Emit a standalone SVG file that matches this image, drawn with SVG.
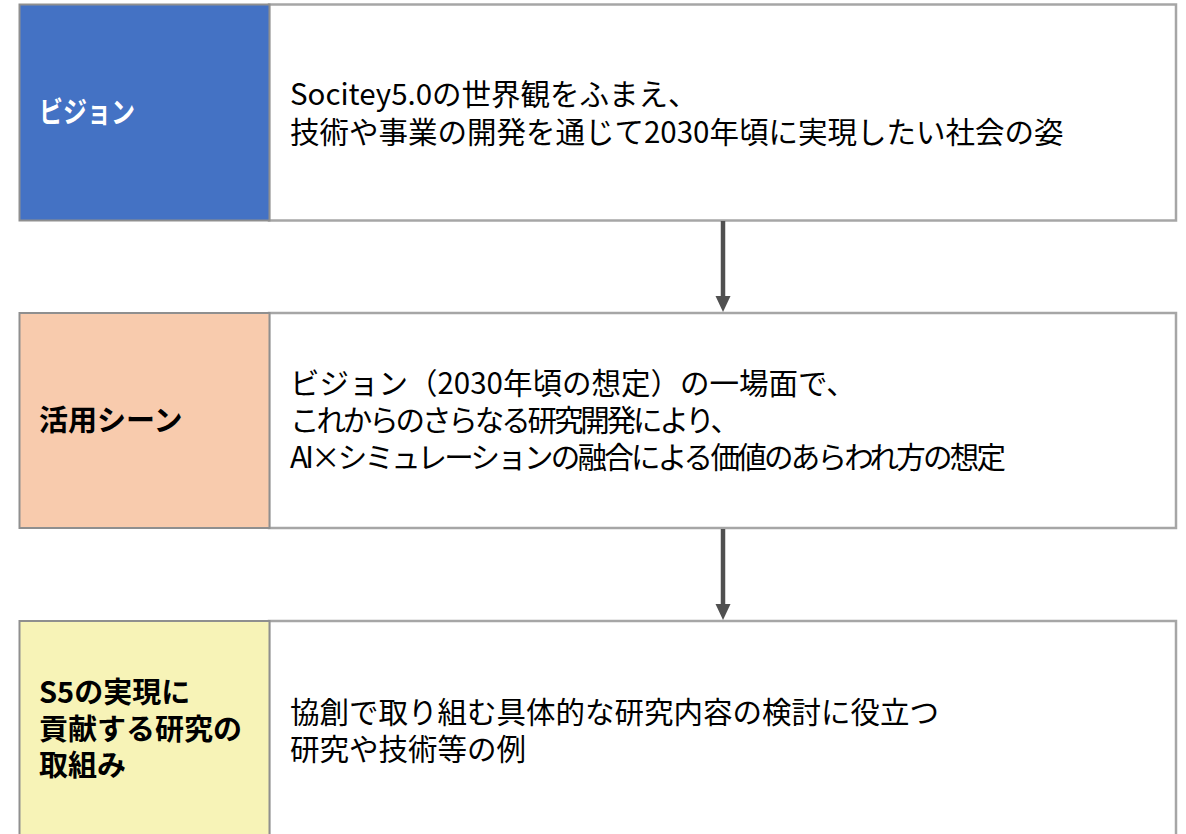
<svg xmlns="http://www.w3.org/2000/svg" width="1186" height="834" viewBox="0 0 1186 834">
<defs>
<style>
.box{fill:#ffffff;stroke:#a6a6a6;stroke-width:2.5}
.lbl{font-family:"Noto Sans CJK JP","Noto Sans",sans-serif;font-weight:bold;font-size:29px}
.txt{font-family:"Noto Sans CJK JP","Noto Sans",sans-serif;font-size:29.5px;fill:#000000}
.conn{stroke:#505050;stroke-width:4.5;fill:none}
</style>
</defs>
<rect width="1186" height="834" fill="#ffffff"/>
<g id="node-vision">
<rect class="box" x="269" y="4.5" width="907" height="216"/>
<rect x="19.5" y="4.5" width="250" height="216" fill="#4472c4" stroke="#8f8f8f" stroke-width="2"/>
<text class="lbl" x="39" y="123" fill="#ffffff" textLength="96" lengthAdjust="spacingAndGlyphs">ビジョン</text>
<text class="txt" x="290" y="105">Socitey5.0の世界観をふまえ、</text>
<text class="txt" x="290" y="143">技術や事業の開発を通じて2030年頃に実現したい社会の姿</text>
</g>
<g id="node-scene">
<rect class="box" x="269" y="313" width="907" height="215"/>
<rect x="19.5" y="313" width="250" height="215" fill="#f8cbad" stroke="#8f8f8f" stroke-width="2"/>
<text class="lbl" x="39" y="431" fill="#000000">活用シーン</text>
<text class="txt" x="290" y="394">ビジョン（2030年頃の想定）の一場面で、</text>
<text class="txt" x="290" y="431" textLength="450">これからのさらなる研究開発により、</text>
<text class="txt" x="290" y="468" textLength="716">AI×シミュレーションの融合による価値のあらわれ方の想定</text>
</g>
<g id="node-research">
<rect class="box" x="269" y="621" width="907" height="240"/>
<rect x="19.5" y="621" width="250" height="240" fill="#f7f3b7" stroke="#8f8f8f" stroke-width="2"/>
<text class="lbl" x="39" y="703" fill="#000000">S5の実現に</text>
<text class="lbl" x="39" y="740" fill="#000000">貢献する研究の</text>
<text class="lbl" x="39" y="776" fill="#000000">取組み</text>
<text class="txt" x="290" y="723">協創で取り組む具体的な研究内容の検討に役立つ</text>
<text class="txt" x="290" y="760">研究や技術等の例</text>
</g>
<g id="connectors">
<line class="conn" x1="723" y1="221" x2="723" y2="298"/>
<polygon points="715.5,296 730.5,296 723,312" fill="#505050"/>
<line class="conn" x1="723" y1="529" x2="723" y2="606"/>
<polygon points="715.5,604 730.5,604 723,620" fill="#505050"/>
</g>
</svg>
